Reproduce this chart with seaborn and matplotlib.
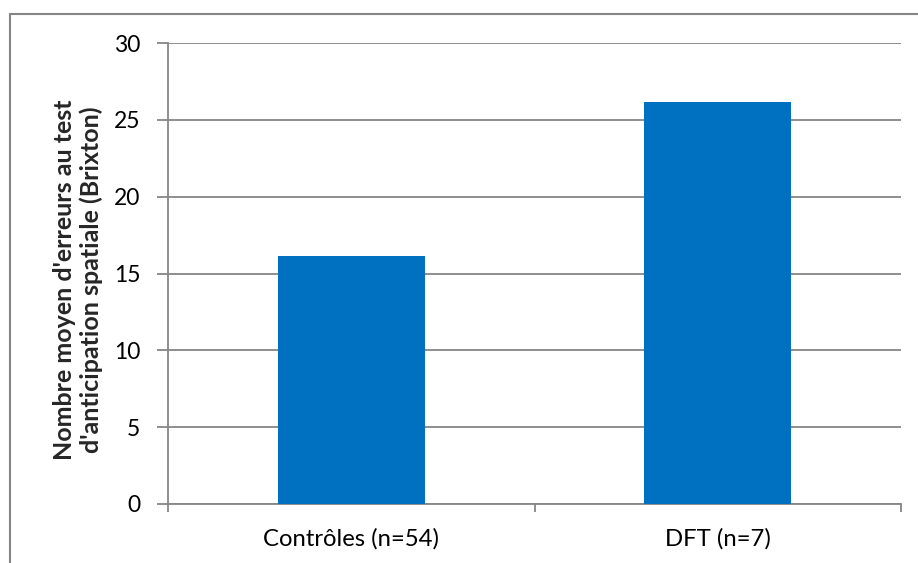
import matplotlib
matplotlib.use("Agg")
import matplotlib.pyplot as plt
from matplotlib.lines import Line2D
import seaborn as sns
import pandas as pd

categories = ["Contrôles (n=54)", "DFT (n=7)"]
values = [16.15, 26.15]
yticks = [0, 5, 10, 15, 20, 25, 30]
ylabel = "Nombre moyen d'erreurs au test\nd'anticipation spatiale (Brixton)"

sns.set_theme(style="white")
plt.rcParams['font.family'] = ['Lato', 'DejaVu Sans']

GRAY = "#868686"
W, H = 918, 563
fig = plt.figure(figsize=(W / 100, H / 100), dpi=100)
ax = fig.add_axes([168 / W, (H - 504) / H, 733 / W, 461 / H])

df = pd.DataFrame({"cat": categories, "val": values})
sns.barplot(data=df, x="cat", y="val", color="#0070C0", saturation=1,
            width=0.4, ax=ax, zorder=3, linewidth=0)

ax.set_xlim(-0.5, 1.5)
ax.set_ylim(0, 30)
ax.set_yticks(yticks)
ax.set_yticklabels([str(t) for t in yticks])
ax.set_xlabel("")
ax.set_ylabel("")
ax.grid(axis="y", color=GRAY, lw=1.3, zorder=0)
ax.set_axisbelow(True)

for s in ["top", "right"]:
    ax.spines[s].set_visible(False)
for s in ["left", "bottom"]:
    ax.spines[s].set_color(GRAY)
    ax.spines[s].set_linewidth(1.3)

ax.tick_params(axis="y", which="major", length=8, width=1.3, color=GRAY,
               direction="out", pad=12, labelsize=16.5, labelcolor="black", left=True)
ax.tick_params(axis="x", which="major", length=0, pad=17, labelsize=17.2,
               labelcolor="black")
ax.set_xticks([-0.5, 0.5, 1.5], minor=True)
ax.tick_params(axis="x", which="minor", length=6, width=1.3, color=GRAY,
               direction="out", bottom=True)

fig.text(78 / W, 1 - 280 / H, ylabel, rotation=90, ha="center", va="center",
         multialignment="center", fontsize=18, fontweight="bold",
         linespacing=1.15)

# outer chart border (cropped box)
fig.add_artist(Line2D([10 / W, 1], [1 - 14 / H, 1 - 14 / H],
                      transform=fig.transFigure, color=GRAY, lw=1.5))
fig.add_artist(Line2D([10 / W, 10 / W], [0, 1 - 14 / H],
                      transform=fig.transFigure, color=GRAY, lw=1.5))

fig.savefig("out.png", dpi=100, facecolor="white")
